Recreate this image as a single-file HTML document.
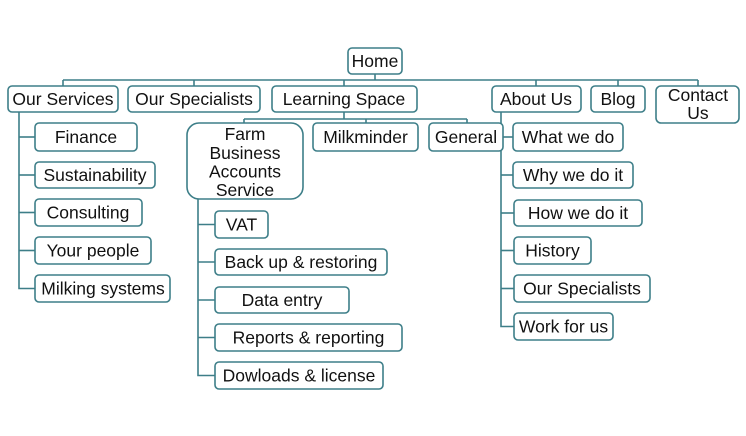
<!DOCTYPE html>
<html>
<head>
<meta charset="utf-8">
<style>
  html,body{margin:0;padding:0;background:#fff;}
  svg{display:block;}
  text{font-family:"Liberation Sans",Arial,sans-serif;font-size:17.5px;fill:#111;text-anchor:middle;}
</style>
</head>
<body>
<svg width="746" height="436" viewBox="0 0 746 436" xmlns="http://www.w3.org/2000/svg">
  <g stroke="#3d7e88" stroke-width="1.6" fill="none">
    <!-- top level -->
    <line x1="375" y1="74" x2="375" y2="80"/>
    <line x1="63" y1="80" x2="698" y2="80"/>
    <line x1="63" y1="80" x2="63" y2="86"/>
    <line x1="194" y1="80" x2="194" y2="86"/>
    <line x1="344" y1="80" x2="344" y2="86"/>
    <line x1="536" y1="80" x2="536" y2="86"/>
    <line x1="618" y1="80" x2="618" y2="86"/>
    <line x1="698" y1="80" x2="698" y2="86"/>
    <!-- Our Services -->
    <polyline points="19,112 19,288.5 35,288.5"/>
    <line x1="19" y1="137" x2="35" y2="137"/>
    <line x1="19" y1="175" x2="35" y2="175"/>
    <line x1="19" y1="212.5" x2="35" y2="212.5"/>
    <line x1="19" y1="250.5" x2="35" y2="250.5"/>
    <!-- Learning Space -->
    <line x1="344" y1="112" x2="344" y2="119"/>
    <line x1="244" y1="119" x2="467" y2="119"/>
    <line x1="244" y1="119" x2="244" y2="123"/>
    <line x1="366" y1="119" x2="366" y2="123"/>
    <line x1="467" y1="119" x2="467" y2="123"/>
    <!-- Farm -->
    <polyline points="198,199 198,375.5 215,375.5"/>
    <line x1="198" y1="224.5" x2="215" y2="224.5"/>
    <line x1="198" y1="262" x2="215" y2="262"/>
    <line x1="198" y1="300" x2="215" y2="300"/>
    <line x1="198" y1="337.5" x2="215" y2="337.5"/>
    <!-- About Us -->
    <polyline points="501,112 501,326.5 514,326.5"/>
    <line x1="501" y1="137" x2="513" y2="137"/>
    <line x1="501" y1="175" x2="513" y2="175"/>
    <line x1="501" y1="213" x2="514" y2="213"/>
    <line x1="501" y1="250.5" x2="514" y2="250.5"/>
    <line x1="501" y1="288.5" x2="514" y2="288.5"/>
  </g>
  <g stroke="#3d7e88" stroke-width="1.6" fill="#fff">
    <rect x="348" y="48" width="54" height="26" rx="4"/>
    <rect x="8" y="86" width="110" height="26" rx="4"/>
    <rect x="128" y="86" width="132" height="26" rx="4"/>
    <rect x="272" y="86" width="145" height="26" rx="4"/>
    <rect x="492" y="86" width="89" height="26" rx="4"/>
    <rect x="591" y="86" width="54" height="26" rx="4"/>
    <rect x="656" y="86" width="83" height="37" rx="5"/>

    <rect x="35" y="123" width="102" height="28" rx="4"/>
    <rect x="35" y="162" width="120" height="26" rx="4"/>
    <rect x="35" y="199" width="107" height="27" rx="4"/>
    <rect x="35" y="237" width="116" height="27" rx="4"/>
    <rect x="35" y="275" width="135" height="27" rx="4"/>

    <rect x="187" y="123" width="116" height="76" rx="12"/>
    <rect x="313" y="123" width="105" height="28" rx="4"/>
    <rect x="429" y="123" width="74" height="28" rx="4"/>

    <rect x="215" y="211" width="53" height="27" rx="4"/>
    <rect x="215" y="249" width="172" height="26" rx="4"/>
    <rect x="215" y="287" width="134" height="26" rx="4"/>
    <rect x="215" y="324" width="187" height="27" rx="4"/>
    <rect x="215" y="362" width="168" height="27" rx="4"/>

    <rect x="513" y="123" width="110" height="28" rx="4"/>
    <rect x="513" y="162" width="120" height="26" rx="4"/>
    <rect x="514" y="200" width="128" height="26" rx="4"/>
    <rect x="514" y="237" width="77" height="27" rx="4"/>
    <rect x="514" y="275" width="136" height="27" rx="4"/>
    <rect x="514" y="313" width="99" height="27" rx="4"/>
  </g>
  <g>
    <text x="375" y="67">Home</text>
    <text x="63" y="105">Our Services</text>
    <text x="194" y="105">Our Specialists</text>
    <text x="344" y="105">Learning Space</text>
    <text x="536" y="105">About Us</text>
    <text x="618" y="105">Blog</text>
    <text x="698" y="101">Contact</text>
    <text x="698" y="119">Us</text>

    <text x="86" y="143">Finance</text>
    <text x="95" y="181">Sustainability</text>
    <text x="88" y="218.5">Consulting</text>
    <text x="93" y="256.5">Your people</text>
    <text x="103" y="294.5">Milking systems</text>

    <text x="245" y="140">Farm</text>
    <text x="245" y="159">Business</text>
    <text x="245" y="177.5">Accounts</text>
    <text x="245" y="196">Service</text>
    <text x="365.5" y="143">Milkminder</text>
    <text x="466" y="143">General</text>

    <text x="241.5" y="230.5">VAT</text>
    <text x="301" y="268">Back up &amp; restoring</text>
    <text x="282" y="306">Data entry</text>
    <text x="308.5" y="343.5">Reports &amp; reporting</text>
    <text x="299" y="381.5">Dowloads &amp; license</text>

    <text x="568" y="143">What we do</text>
    <text x="573" y="181">Why we do it</text>
    <text x="578" y="219">How we do it</text>
    <text x="552.5" y="256.5">History</text>
    <text x="582" y="294.5">Our Specialists</text>
    <text x="563.5" y="332.5">Work for us</text>
  </g>
</svg>
</body>
</html>
